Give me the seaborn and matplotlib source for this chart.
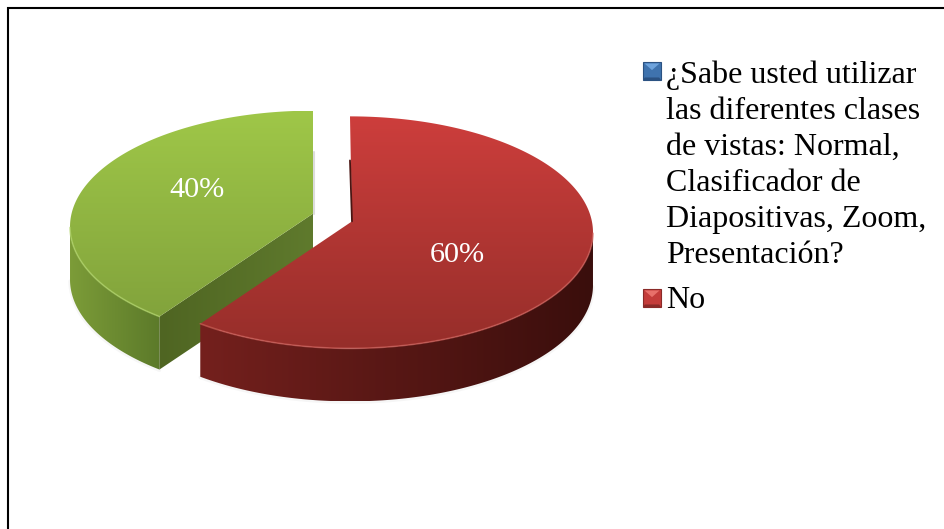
import numpy as np
import matplotlib
matplotlib.use('Agg')
import matplotlib.pyplot as plt
from matplotlib.colors import LinearSegmentedColormap
from matplotlib.patches import Polygon, Rectangle
import seaborn as sns

# Data
slice_values = [60, 40]
slice_labels = ['60%', '40%']
legend_labels = ['¿Sabe usted utilizar\nlas diferentes clases\nde vistas: Normal,\nClasificador de\nDiapositivas, Zoom,\nPresentación?', 'No']

sns.set_theme(style='white')
plt.rcParams['font.family'] = ['Liberation Serif', 'DejaVu Serif']

W, H = 945, 529
CX, CY, A, B = 331.5, 229.5, 243, 116  # pie centre and radii in pixels
DEPTH = 53 / B
RAY_LIFT = [7 / B, 11 / B]   # used to place the rim corners
APEX_LIFT = [11 / B, 13 / B]  # drawn height of the slice tip
APEX_DX = [2 / A, 0]


def gradient(ax, clip, colors, vertical=True):
    cmap = LinearSegmentedColormap.from_list('g', colors)
    xy = clip.get_xy()
    ramp = np.linspace(0, 1, 256)
    ramp = ramp[:, None] if vertical else ramp[None, :]
    im = ax.imshow(ramp, cmap=cmap, aspect='auto', zorder=clip.get_zorder(), interpolation='bilinear',
                   origin='upper',
                   extent=(xy[:, 0].min(), xy[:, 0].max(), xy[:, 1].min(), xy[:, 1].max()))
    ax.add_patch(clip)
    clip.set_visible(False)
    im.set_clip_path(clip)


def rim_points(th1, th2, lift):
    # cast rays from the raised apex onto the rim, this is what shifts the corners in 3D
    t = np.radians(np.linspace(th1, th2, 300))
    dx, dy = np.cos(t), np.sin(t)
    pd = lift * dy
    s = -pd + np.sqrt(pd ** 2 + 1 - lift ** 2)
    return dx * s, lift + dy * s


fig = plt.figure(figsize=(W / 100, H / 100), dpi=100)
ax = fig.add_axes([0, 0, 1, 1])
wedges, _ = ax.pie(slice_values, explode=[0.08, 0.08], startangle=90, counterclock=False,
                   colors=['none', 'none'])
ax.set_aspect('auto')

top_colors = [['#cd3e3c', '#962e2a'], ['#9fc748', '#82a33c']]
wall_colors = [['#74201d', '#3a0e0c'], ['#7c9c38', '#5c7a2a']]
rim_colors = ['#d0605a', '#b0d468']
face_color = ['#4f6522', '#5f7a2d']

# green first, red sits in front of it
for order, i in enumerate([1, 0]):
    w = wedges[i]
    base = 2 + order * 3
    cx, cy = w.center
    rx, ry = rim_points(w.theta1, w.theta2, RAY_LIFT[i])
    arc = np.column_stack([cx + rx, cy + ry])
    apex = np.array([cx + APEX_DX[i], cy + APEX_LIFT[i]])

    # front wall, only the lower half of the rim shows
    rim = arc[ry <= 0]
    wall = np.vstack([rim, (rim - [0, DEPTH])[::-1]])
    ax.plot(rim[:, 0], rim[:, 1] - DEPTH - 0.006, color='#909090', lw=2.5, alpha=0.08, zorder=1)
    gradient(ax, Polygon(wall, zorder=base), wall_colors[i], vertical=False)

    if i == 1:
        # cut face of the green slice
        corner = arc[-1]
        face = np.array([apex, corner, corner - [0, DEPTH], apex - [0, DEPTH]])
        gradient(ax, Polygon(face, zorder=base + 0.5), face_color, vertical=False)
        ax.plot([cx + 0.006] * 2, [cy + 0.64, cy + APEX_LIFT[i]], color='#dcdcdc', lw=1.5, zorder=base)
    else:
        ax.plot([cx, cx + APEX_DX[i]], [cy + 0.62, cy + APEX_LIFT[i]], color='#4a1512', lw=1.3, zorder=base + 1.2)

    # top surface
    top = np.vstack([arc, apex])
    gradient(ax, Polygon(top, zorder=base + 1), top_colors[i])
    ax.plot(rim[:, 0], rim[:, 1], color=rim_colors[i], lw=1.2, alpha=0.65, zorder=base + 1.5)

ax.set_xlim((0 - CX) / A, (W - CX) / A)
ax.set_ylim((CY - H) / B, CY / B)
ax.axis('off')


def px_text(x, y, s, **kw):
    fig.text(x / W, 1 - y / H, s, **kw)


px_text(197, 190, slice_labels[1], color='white', fontsize=21.8, ha='center', va='center')
px_text(457, 255, slice_labels[0], color='white', fontsize=21.8, ha='center', va='center')

# legend swatches with the bevel look
swatches = ['#3f73ae', '#c43c3a']
swatch_dark = ['#2b5282', '#8a2a28']
swatch_light = ['#6ea3dc', '#e8706a']
swatch_y = [71, 298]
for k in range(2):
    x0, y0, s = 643, swatch_y[k] - 9, 18
    pts = lambda p: [((x0 + a * s) / W, 1 - (y0 + b * s) / H) for a, b in p]
    fig.add_artist(Rectangle((x0 / W, 1 - (y0 + s) / H), s / W, s / H, transform=fig.transFigure,
                             facecolor=swatches[k], edgecolor=swatch_dark[k], lw=0.8))
    fig.add_artist(Polygon(pts([(0.08, 0.08), (0.92, 0.08), (0.5, 0.45)]), transform=fig.transFigure,
                           facecolor=swatch_light[k], edgecolor='none'))
    fig.add_artist(Polygon(pts([(0, 1), (1, 1), (0.9, 0.86), (0.1, 0.86)]), transform=fig.transFigure,
                           facecolor=swatch_dark[k], edgecolor='none'))

px_text(666, 61, legend_labels[0], fontsize=23, va='top', linespacing=1.31, color='black')
px_text(666, 286, legend_labels[1], fontsize=23, va='top', color='black')

# outer frame, cut off by the crop
fig.add_artist(Rectangle((8.5 / W, -0.1), 1.2, 1.1 - 8 / H, transform=fig.transFigure,
                         fill=False, edgecolor='black', lw=1.5))

fig.savefig('out.png', dpi=100)
